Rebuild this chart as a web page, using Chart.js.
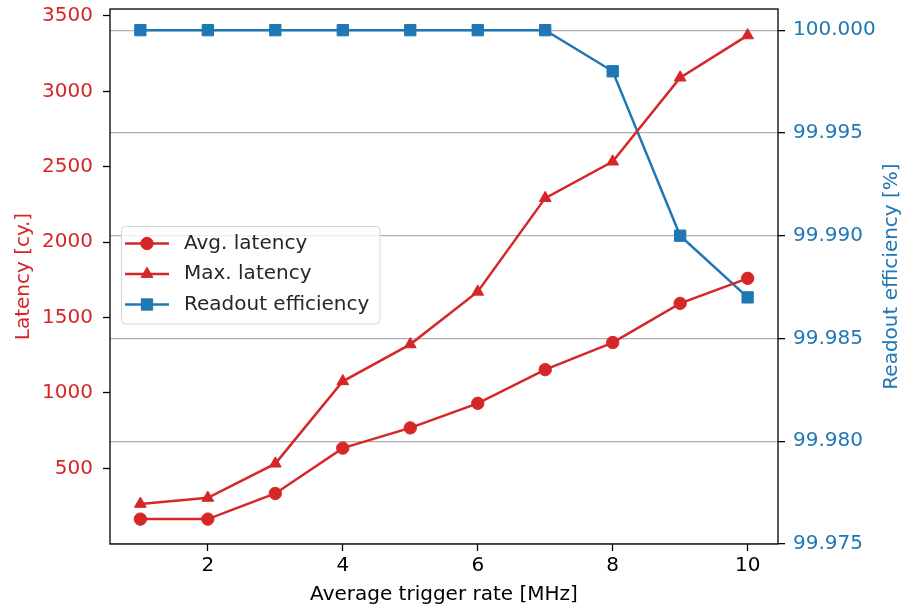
<!DOCTYPE html>
<html>
<head>
<meta charset="utf-8">
<script src="https://cdn.jsdelivr.net/npm/chart.js@4/dist/chart.umd.min.js"></script>
<style>
  html, body { margin: 0; padding: 0; background: #fff; }
  canvas { display: block; }
</style>
</head>
<body>
<canvas id="chart" width="907" height="607"></canvas>
<script>
// data
const triggerRate = [1, 2, 3, 4, 5, 6, 7, 8, 9, 10];
const avgLatency = [163, 163, 333, 634, 768, 931, 1154, 1334, 1594, 1760];
const maxLatency = [264, 304, 531, 1077, 1322, 1671, 2292, 2534, 3091, 3371];
const readoutEff = [100.000, 100.000, 100.000, 100.000, 100.000, 100.000, 100.000, 99.998, 99.990, 99.987];

const xTicks = [2, 4, 6, 8, 10];
const latencyTicks = [500, 1000, 1500, 2000, 2500, 3000, 3500];
const effTicks = [99.975, 99.980, 99.985, 99.990, 99.995, 100.000];

const RED = '#d62728';
const BLUE = '#1f77b4';
const FONT = { family: 'DejaVu Sans', size: 20 };
const FONT_CSS = FONT.size + 'px "' + FONT.family + '"';

const toPoints = (ys) => ys.map((y, i) => ({ x: triggerRate[i], y: y }));

// box around the plot, right axis title (reads bottom to top) and the legend
const frameAndLegend = {
  id: 'frameAndLegend',
  afterDraw(chart) {
    const ctx = chart.ctx;
    const a = chart.chartArea;
    ctx.save();
    ctx.strokeStyle = '#000';
    ctx.lineWidth = 1.3;
    ctx.strokeRect(a.left, a.top, a.right - a.left, a.bottom - a.top);

    // right axis title
    ctx.save();
    ctx.translate(892, (a.top + a.bottom) / 2);
    ctx.rotate(-Math.PI / 2);
    ctx.fillStyle = BLUE;
    ctx.font = FONT_CSS;
    ctx.textAlign = 'center';
    ctx.textBaseline = 'middle';
    ctx.fillText('Readout efficiency [%]', 0, 0);
    ctx.restore();

    // legend
    const bx = 121.5, by = 226.5, bw = 258.5, bh = 97.5, r = 4;
    ctx.beginPath();
    ctx.roundRect(bx, by, bw, bh, r);
    ctx.fillStyle = 'rgba(255,255,255,0.8)';
    ctx.fill();
    ctx.strokeStyle = '#d6d6d6';
    ctx.lineWidth = 1;
    ctx.stroke();

    const rowY = [243.5, 274, 304.5];
    chart.data.datasets.forEach((ds, i) => {
      const y = rowY[i];
      ctx.strokeStyle = ds.borderColor;
      ctx.lineWidth = ds.borderWidth;
      ctx.beginPath();
      ctx.moveTo(125, y);
      ctx.lineTo(169, y);
      ctx.stroke();
      ctx.fillStyle = ds.pointBackgroundColor;
      ctx.strokeStyle = ds.pointBorderColor;
      ctx.lineWidth = 1;
      Chart.helpers.drawPoint(ctx, {
        pointStyle: ds.pointStyle, radius: ds.pointRadius, rotation: 0, borderWidth: 1
      }, 147, y);
      ctx.fillStyle = '#262626';
      ctx.font = FONT_CSS;
      ctx.textAlign = 'left';
      ctx.textBaseline = 'middle';
      ctx.fillText(ds.label, 184, y);
    });
    ctx.restore();
  }
};

function fixWidth(w) {
  return (scale) => {
    scale.width = w;
    scale.paddingTop = 0;
    scale.paddingBottom = 0;
  };
}

new Chart(document.getElementById('chart'), {
  type: 'line',
  data: {
    datasets: [
      {
        label: 'Avg. latency',
        data: toPoints(avgLatency),
        yAxisID: 'y',
        borderColor: RED,
        borderWidth: 2.5,
        pointStyle: 'circle',
        pointRadius: 6.2,
        pointBackgroundColor: RED,
        pointBorderColor: RED,
        pointBorderWidth: 1
      },
      {
        label: 'Max. latency',
        data: toPoints(maxLatency),
        yAxisID: 'y',
        borderColor: RED,
        borderWidth: 2.5,
        pointStyle: 'triangle',
        pointRadius: 6.8,
        pointBackgroundColor: RED,
        pointBorderColor: RED,
        pointBorderWidth: 1
      },
      {
        label: 'Readout efficiency',
        data: toPoints(readoutEff),
        yAxisID: 'y1',
        borderColor: BLUE,
        borderWidth: 2.5,
        pointStyle: 'rect',
        pointRadius: 8,
        pointBackgroundColor: BLUE,
        pointBorderColor: BLUE,
        pointBorderWidth: 1
      }
    ]
  },
  options: {
    responsive: false,
    animation: false,
    devicePixelRatio: 1,
    layout: { padding: { top: 7, left: 0, right: 0, bottom: 0 } },
    plugins: {
      legend: { display: false },
      tooltip: { enabled: false }
    },
    scales: {
      x: {
        type: 'linear',
        position: 'bottom',
        min: 0.55,
        max: 10.45,
        afterBuildTicks: (scale) => { scale.ticks = xTicks.map(v => ({ value: v })); },
        afterFit: (scale) => {
          scale.height = 63;
          scale.paddingLeft = 0;
          scale.paddingRight = 0;
        },
        ticks: { color: '#000', font: FONT, padding: 2.5, maxRotation: 0, callback: (v) => String(v) },
        grid: { drawOnChartArea: false, tickLength: 7, tickColor: '#000', tickWidth: 1.3 },
        border: { display: false },
        title: {
          display: true,
          text: 'Average trigger rate [MHz]',
          color: '#000',
          font: FONT,
          padding: { top: 0, bottom: 0 }
        }
      },
      y: {
        type: 'linear',
        position: 'left',
        min: -2,
        max: 3546,
        afterBuildTicks: (scale) => { scale.ticks = latencyTicks.map(v => ({ value: v })); },
        afterFit: fixWidth(110),
        ticks: { color: RED, font: FONT, padding: 10, callback: (v) => String(v) },
        grid: { drawOnChartArea: false, tickLength: 7, tickColor: '#000', tickWidth: 1.3 },
        border: { display: false },
        title: {
          display: true,
          text: 'Latency [cy.]',
          color: RED,
          font: FONT,
          padding: { top: 12, bottom: 0 }
        }
      },
      y1: {
        type: 'linear',
        position: 'right',
        min: 99.975,
        max: 100.00103,
        afterBuildTicks: (scale) => { scale.ticks = effTicks.map(v => ({ value: v })); },
        afterFit: fixWidth(129),
        ticks: {
          color: BLUE,
          font: FONT,
          padding: 8,
          callback: (v) => Number(v).toFixed(3)
        },
        grid: {
          drawOnChartArea: true,
          color: '#b0b0b0',
          lineWidth: 1.3,
          tickLength: 7,
          tickColor: '#000',
          tickWidth: 1.3
        },
        border: { display: false },
        title: { display: false }
      }
    }
  },
  plugins: [frameAndLegend]
});
</script>
</body>
</html>
